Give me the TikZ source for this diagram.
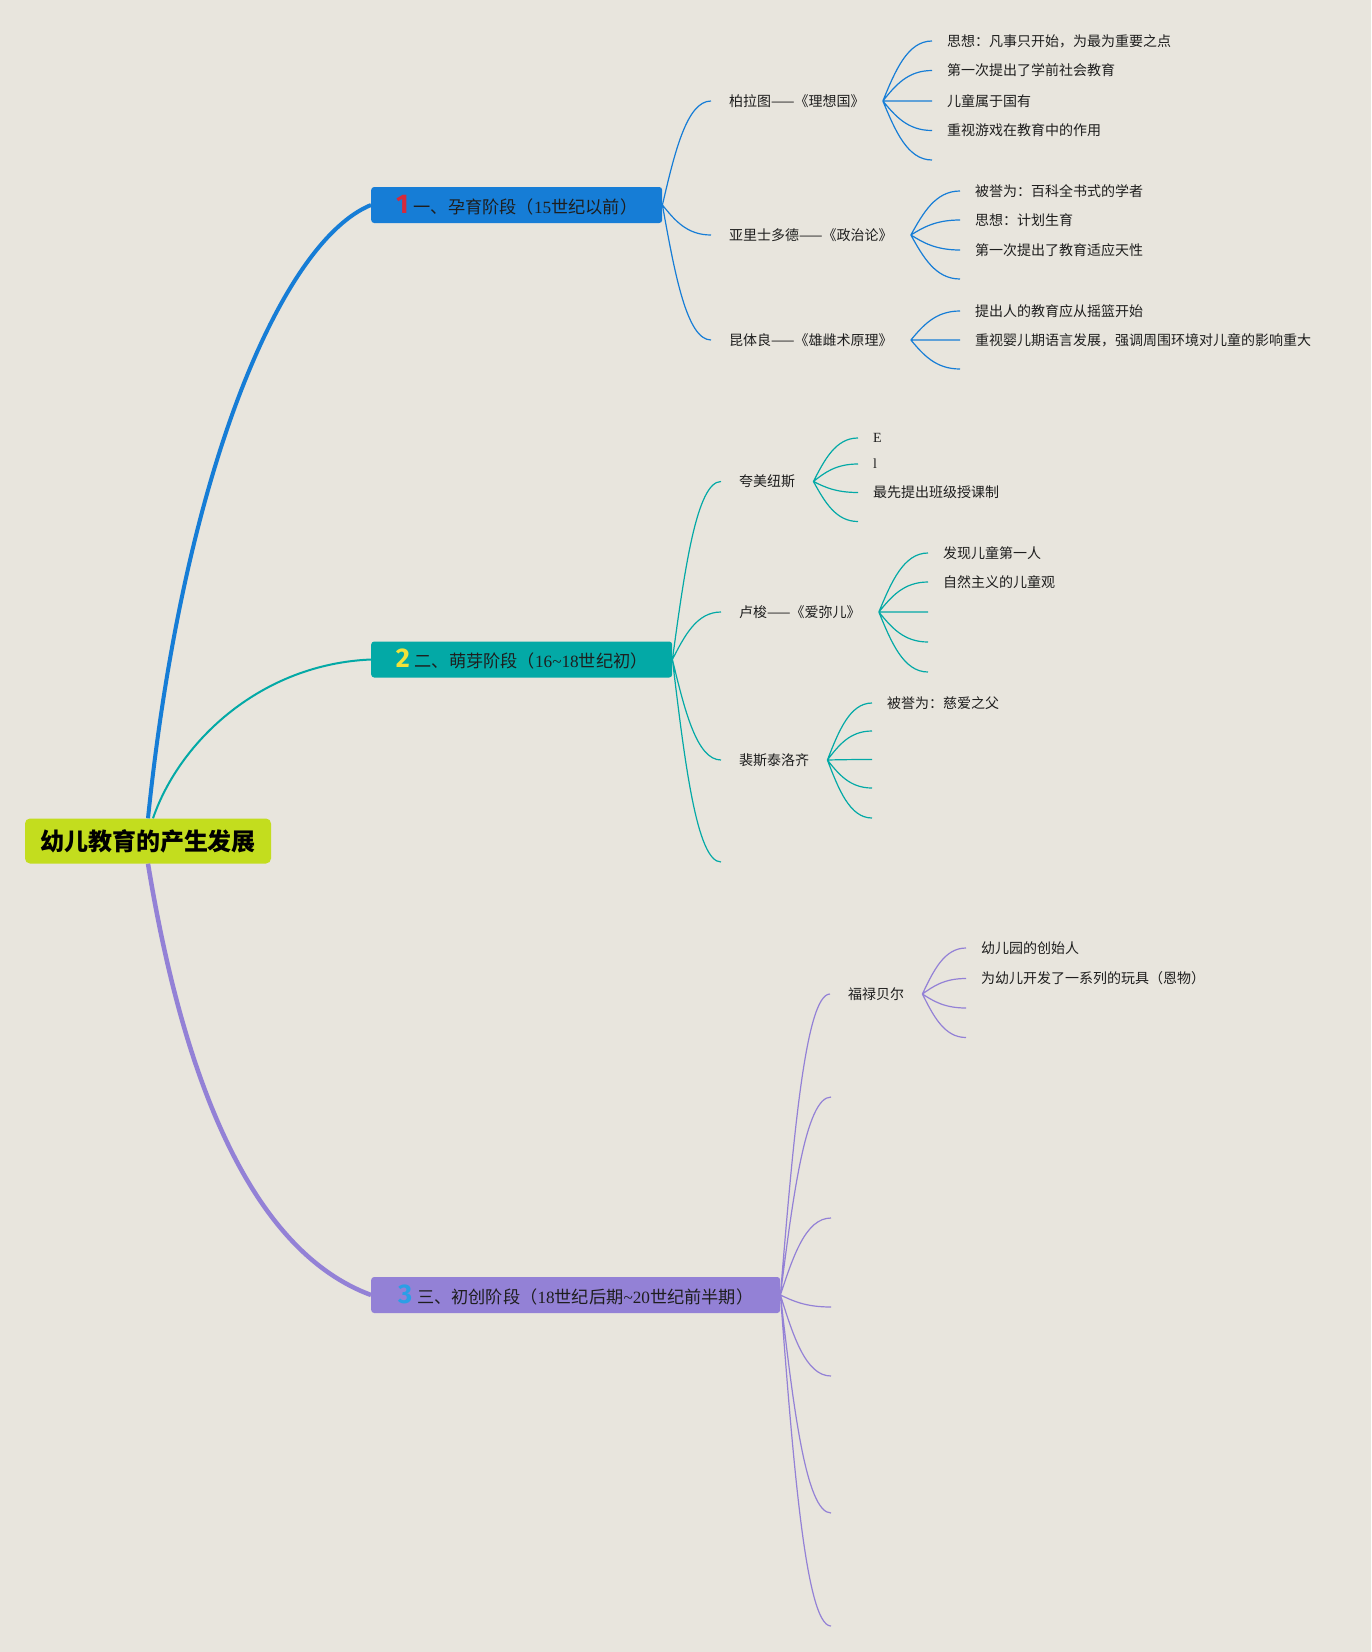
\documentclass[tikz,border=0pt]{standalone}
\usepackage{fontspec}
\setmainfont{Noto Sans CJK SC}
\newfontfamily\latin{Liberation Serif}
\newfontfamily\numfont{Fira Sans}
\usepackage{tikz}
\usetikzlibrary{calc}

\definecolor{paper}{HTML}{E8E5DD}
\definecolor{lime}{HTML}{C3DD1E}
\definecolor{sky}{HTML}{167DD6}
\definecolor{teal2}{HTML}{03A9A6}
\definecolor{lilac}{HTML}{9381D6}
\definecolor{ink}{HTML}{1E1E1E}
\definecolor{redno}{HTML}{D42A3C}
\definecolor{yelno}{HTML}{F2E23A}
\definecolor{blueno}{HTML}{2B9FE6}

\newcommand{\stageno}[2]{{\numfont\bfseries\fontsize{27}{27}\selectfont\color{#1}#2}\hspace{5pt}}

\begin{document}
\begin{tikzpicture}[
    x=1pt, y=-1pt,
    root/.style={fill=lime, rounded corners=5pt, minimum width=246pt, minimum height=45pt,
                 font=\fontsize{24}{28}\selectfont\bfseries, text=black},
    stage/.style={anchor=west, rounded corners=3pt, minimum height=36pt, inner xsep=0pt,
                  font=\fontsize{17.2}{20}\selectfont, text=ink},
    sub/.style={anchor=west, inner xsep=18pt, inner ysep=3pt,
                font=\fontsize{14}{17}\selectfont, text=ink},
    leaf/.style={anchor=west, inner xsep=15pt, inner ysep=3pt,
                 font=\fontsize{14}{17}\selectfont, text=ink},
    twig/.style={to path={let \p1=(\tikztostart), \p2=(\tikztotarget) in
        .. controls ({\x1+0.25*(\x2-\x1)},{0.5*(\y1+\y2)}) and ({0.5*(\x1+\x2)},\y2) .. (\tikztotarget)}},
    l1/.style={draw=sky, line width=1.2pt},
    l2/.style={draw=teal2, line width=1.2pt},
    l3/.style={draw=lilac, line width=1.2pt}
  ]
  \fill[paper] (0,0) rectangle (1371,1652);
  \useasboundingbox (0,0) rectangle (1371,1652);

  \node[root] (root) at (148,841) {幼儿教育的产生发展};
  \node[stage, fill=sky, minimum width=291pt] (st1) at (371,205)
    {\stageno{redno}{1}一、孕育阶段（{\latin 15}世纪以前）};
  \node[stage, fill=teal2, minimum width=301pt] (st2) at (371,659.5)
    {\stageno{yelno}{2}二、萌芽阶段（{\latin 16\char`~18}世纪初）};
  \node[stage, fill=lilac, minimum width=409pt] (st3) at (371,1295)
    {\stageno{blueno}{3}三、初创阶段（{\latin 18}世纪后期{\latin \char`~20}世纪前半期）};

  \draw[sky, line width=4pt] (root.north) .. controls (185,460) and (285,240) .. (st1.west);
  \draw[teal2, line width=2pt] ([xshift=5pt]root.north) .. controls (180,740) and (262,664) .. (st2.west);
  \draw[lilac, line width=4.5pt] (root.south) .. controls (185,1090) and (255,1252) .. (st3.west);

  % stage 1
  \node[sub] (plato) at (711,101) {柏拉图——《理想国》};
  \node[sub] (arist) at (711,235) {亚里士多德——《政治论》};
  \node[sub] (quint) at (711,340) {昆体良——《雄雌术原理》};
  \draw[l1] (st1.east) to[twig] (plato.west) (st1.east) to[twig] (arist.west)
            (st1.east) to[twig] (quint.west);

  \node[leaf] (pl1) at (932,41) {思想：凡事只开始，为最为重要之点};
  \node[leaf] (pl2) at (932,70.5) {第一次提出了学前社会教育};
  \node[leaf] (pl3) at (932,101) {儿童属于国有};
  \node[leaf] (pl4) at (932,130.5) {重视游戏在教育中的作用};
  \coordinate (pl5) at (932,160);
  \draw[l1] (plato.east) to[twig] (pl1.west) (plato.east) to[twig] (pl2.west)
            (plato.east) to[twig] (pl3.west) (plato.east) to[twig] (pl4.west)
            (plato.east) to[twig] (pl5);

  \node[leaf] (ar1) at (960,191) {被誉为：百科全书式的学者};
  \node[leaf] (ar2) at (960,220) {思想：计划生育};
  \node[leaf] (ar3) at (960,250) {第一次提出了教育适应天性};
  \coordinate (ar4) at (960,279);
  \draw[l1] (arist.east) to[twig] (ar1.west) (arist.east) to[twig] (ar2.west)
            (arist.east) to[twig] (ar3.west) (arist.east) to[twig] (ar4);

  \node[leaf] (qu1) at (960,311) {提出人的教育应从摇篮开始};
  \node[leaf] (qu2) at (960,340) {重视婴儿期语言发展，强调周围环境对儿童的影响重大};
  \coordinate (qu3) at (960,369);
  \draw[l1] (quint.east) to[twig] (qu1.west) (quint.east) to[twig] (qu2.west)
            (quint.east) to[twig] (qu3);

  % stage 2
  \node[sub] (comen) at (721,481.5) {夸美纽斯};
  \node[sub] (rouss) at (721,612) {卢梭——《爱弥儿》};
  \node[sub] (pesta) at (721,760) {裴斯泰洛齐};
  \coordinate (st2e) at (721,862);
  \draw[l2] (st2.east) to[twig] (comen.west) (st2.east) to[twig] (rouss.west)
            (st2.east) to[twig] (pesta.west) (st2.east) to[twig] (st2e);

  \node[leaf, font=\latin\fontsize{14}{17}\selectfont] (co1) at (858,438) {E};
  \node[leaf, font=\latin\fontsize{14}{17}\selectfont] (co2) at (858,464) {l};
  \node[leaf] (co3) at (858,492.5) {最先提出班级授课制};
  \coordinate (co4) at (858,521.5);
  \draw[l2] (comen.east) to[twig] (co1.west) (comen.east) to[twig] (co2.west)
            (comen.east) to[twig] (co3.west) (comen.east) to[twig] (co4);

  \node[leaf] (ro1) at (928,553) {发现儿童第一人};
  \node[leaf] (ro2) at (928,582) {自然主义的儿童观};
  \coordinate (ro3) at (928,612);
  \coordinate (ro4) at (928,642);
  \coordinate (ro5) at (928,672);
  \draw[l2] (rouss.east) to[twig] (ro1.west) (rouss.east) to[twig] (ro2.west)
            (rouss.east) to[twig] (ro3) (rouss.east) to[twig] (ro4)
            (rouss.east) to[twig] (ro5);

  \node[leaf] (pe1) at (872,703) {被誉为：慈爱之父};
  \coordinate (pe2) at (872,731);
  \coordinate (pe3) at (872,759.5);
  \coordinate (pe4) at (872,788);
  \coordinate (pe5) at (872,818);
  \draw[l2] (pesta.east) to[twig] (pe1.west) (pesta.east) to[twig] (pe2)
            (pesta.east) to[twig] (pe3) (pesta.east) to[twig] (pe4)
            (pesta.east) to[twig] (pe5);

  % stage 3
  \node[sub] (froeb) at (830,994) {福禄贝尔};
  \coordinate (st3a) at (831,1097);
  \coordinate (st3b) at (831,1218);
  \coordinate (st3c) at (831,1307);
  \coordinate (st3d) at (831,1376);
  \coordinate (st3e) at (831,1513);
  \coordinate (st3f) at (831,1626);
  \draw[l3] (st3.east) to[twig] (froeb.west) (st3.east) to[twig] (st3a)
            (st3.east) to[twig] (st3b) (st3.east) to[twig] (st3c)
            (st3.east) to[twig] (st3d) (st3.east) to[twig] (st3e)
            (st3.east) to[twig] (st3f);

  \node[leaf] (fr1) at (966,948) {幼儿园的创始人};
  \node[leaf] (fr2) at (966,978.5) {为幼儿开发了一系列的玩具（恩物）};
  \coordinate (fr3) at (966,1008);
  \coordinate (fr4) at (966,1037.5);
  \draw[l3] (froeb.east) to[twig] (fr1.west) (froeb.east) to[twig] (fr2.west)
            (froeb.east) to[twig] (fr3) (froeb.east) to[twig] (fr4);
\end{tikzpicture}
\end{document}
